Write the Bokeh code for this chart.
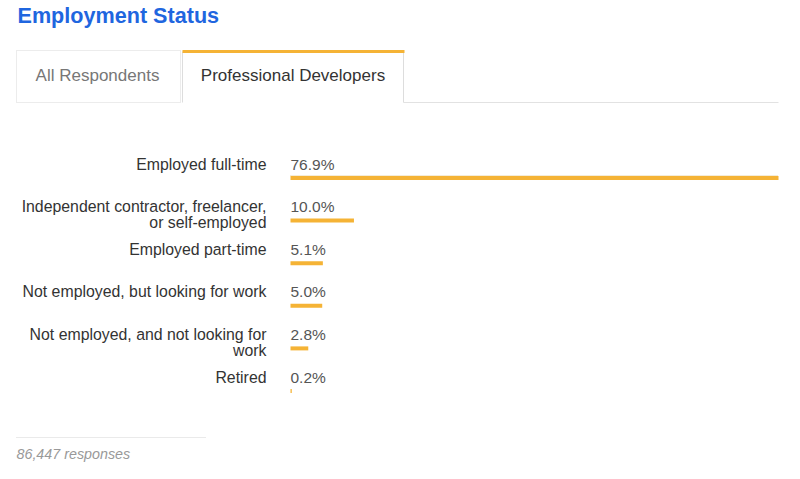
from bokeh.plotting import figure
from bokeh.models import Range1d, ColumnDataSource
from bokeh.core.properties import value
from bokeh.embed import file_html
from bokeh.resources import INLINE

# ---- data ----
categories = [
    "Employed full-time",
    "Independent contractor, freelancer,\nor self-employed",
    "Employed part-time",
    "Not employed, but looking for work",
    "Not employed, and not looking for\nwork",
    "Retired",
]
percents = [76.9, 10.0, 5.1, 5.0, 2.8, 0.2]
pct_labels = ["76.9%", "10.0%", "5.1%", "5.0%", "2.8%", "0.2%"]
title_text = "Employment Status"
tab_labels = ["All Respondents", "Professional Developers"]
footer_text = "86,447 responses"

# ---- layout constants (pixels) ----
W, H = 800, 479
BAR_X0 = 290.0          # pixel where 0% sits
PX_PER_PCT = 488.0 / 76.9
ROW0 = 164.0            # first row text centre
ROW_STEP = 42.6
BAR_DY = 13.5
FONT = "Liberation Sans"

x_start = -BAR_X0 / PX_PER_PCT
x_end = (W - BAR_X0) / PX_PER_PCT

p = figure(width=W, height=H, output_backend="svg", toolbar_location=None,
           x_range=Range1d(x_start, x_end), y_range=Range1d(H, 0),
           x_axis_type=None, y_axis_type=None, min_border=0,
           background_fill_color="white", border_fill_color="white")
p.outline_line_color = None
p.grid.visible = False
p.extra_x_ranges = {"px": Range1d(0, W)}

rows = [ROW0 + ROW_STEP * i for i in range(len(categories))]
src = ColumnDataSource(dict(
    cat=categories, pct=percents, lab=pct_labels,
    row=rows, bar_y=[r + BAR_DY for r in rows],
    zero=[0.0] * len(categories),
    text_top=[r - 9 for r in rows],
))

# bars
p.hbar(y="bar_y", left="zero", right="pct", height=4, source=src,
       fill_color="#F5B335", line_color=None)
# faint dotted line above the top bar
p.segment(x0=0, x1=percents[0], y0=rows[0] + BAR_DY - 2.5, y1=rows[0] + BAR_DY - 2.5,
          line_color="#e8d9b0", line_width=1, line_dash="1 1")

# percent labels
p.text(x="zero", y="text_top", text="lab", source=src,
       text_font=value(FONT), text_font_size="15.5px", text_color="#555555",
       text_align="left", text_baseline="top")
# category labels (right aligned)
p.text(x="zero", y="text_top", text="cat", source=src, x_offset=-24,
       text_font=value(FONT), text_font_size="15.85px", text_color="#333333",
       text_align="right", text_baseline="top", text_line_height=0.95)

# ---- decoration in pixel coords ----
# title
p.text(x=[17], y=[2], text=[title_text], x_range_name="px",
       text_font=value(FONT), text_font_size="21.6px", text_font_style="bold",
       text_color="#1F66DF", text_align="left", text_baseline="top")

# tab 1 (dotted border)
p.quad(left=[16], right=[180], top=[50], bottom=[102], x_range_name="px",
       fill_color="white", line_color="#d8d8d8", line_dash="1 1", line_width=1)
# tab 2 sides
p.segment(x0=[182, 403], x1=[182, 403], y0=[51, 51], y1=[102, 102], x_range_name="px",
          line_color="#dddddd", line_width=1)
# tab 2 orange top
p.segment(x0=[182], x1=[404], y0=[51], y1=[51], x_range_name="px",
          line_color="#F5B335", line_width=3)
# baseline right of tab 2
p.segment(x0=[403], x1=[778], y0=[102], y1=[102], x_range_name="px",
          line_color="#e2e2e2", line_width=1)
# tab texts
p.text(x=[97, 292.5], y=[75, 75], text=tab_labels, x_range_name="px",
       text_font=value(FONT), text_font_size="17px",
       text_color=["#777777", "#333333"], text_align="center", text_baseline="middle")

# footer
p.segment(x0=[16], x1=[205], y0=[437], y1=[437], x_range_name="px",
          line_color="#d5d5d5", line_width=1, line_dash="1 1")
p.text(x=[16], y=[453], text=[footer_text], x_range_name="px",
       text_font=value(FONT), text_font_size="14.3px", text_font_style="italic",
       text_color="#999999", text_align="left", text_baseline="middle")

open("out.html", "w").write(file_html(p, INLINE))
